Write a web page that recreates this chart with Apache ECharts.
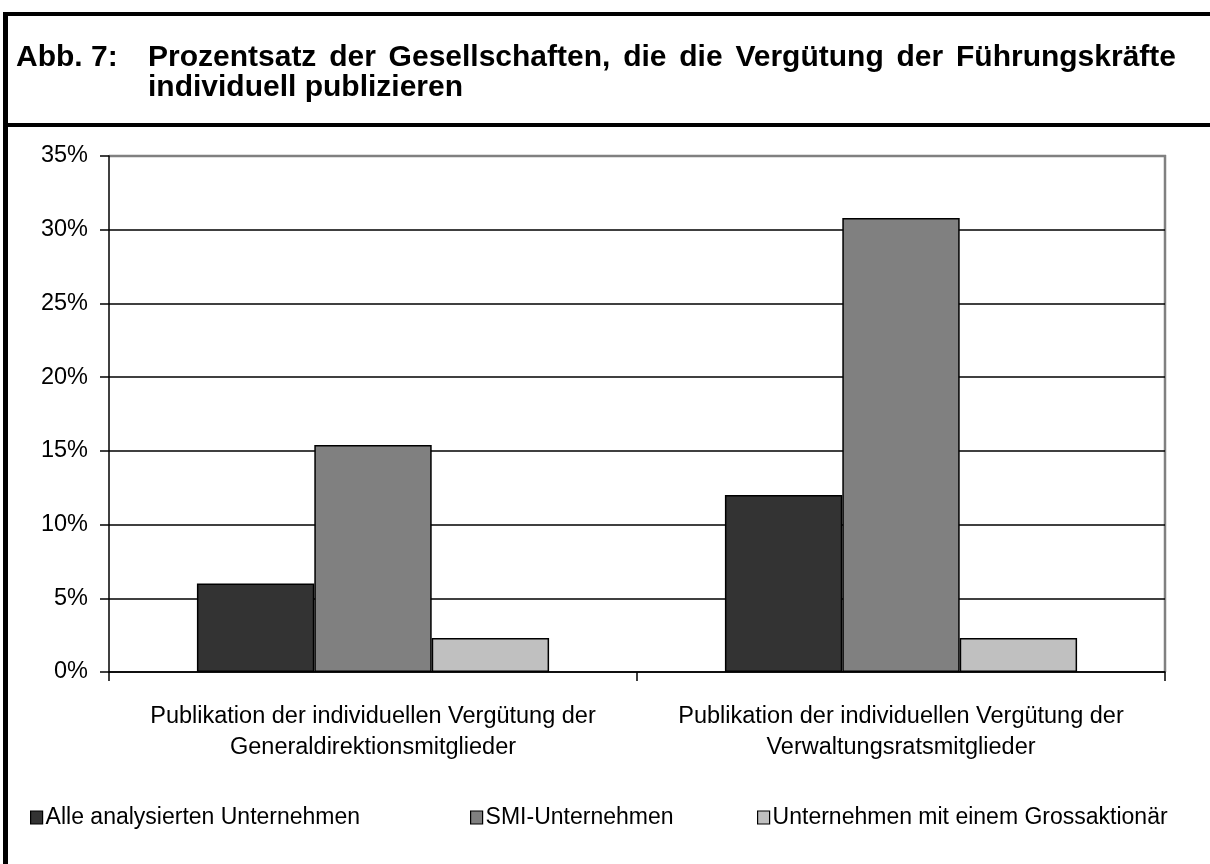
<!DOCTYPE html>
<html>
<head>
<meta charset="utf-8">
<script src="https://cdn.jsdelivr.net/npm/echarts@6/dist/echarts.min.js"></script>
<style>
html,body{margin:0;padding:0;background:#fff;}
#chart{width:1210px;height:864px;}
</style>
</head>
<body>
<div id="chart"></div>
<script>
const categories = [
  'Publikation der individuellen Vergütung der\nGeneraldirektionsmitglieder',
  'Publikation der individuellen Vergütung der\nVerwaltungsratsmitglieder'
];
const seriesNames = ['Alle analysierten Unternehmen', 'SMI-Unternehmen', 'Unternehmen mit einem Grossaktionär'];
const alleValues = [6.0, 12.0];
const smiValues = [15.4, 30.8];
const grossValues = [2.3, 2.3];
const yTicks = [0, 5, 10, 15, 20, 25, 30, 35];
const titleLead = 'Abb. 7:';
const titleLine1 = 'Prozentsatz der Gesellschaften, die die Vergütung der Führungskräfte';
const titleLine2 = 'individuell publizieren';

const FONT = "'Liberation Sans', Arial, sans-serif";
const TITLE_SIZE = 30;
const LABEL_SIZE = 23.5;
const LEGEND_SIZE = 23;
const colors = ['#333333', '#808080', '#c0c0c0'];
const chart = echarts.init(document.getElementById('chart'), null, {renderer: 'canvas'});

function bar(name, data, color) {
  return {
    name: name, type: 'bar', data: data,
    barGap: '0%', barCategoryGap: '33.3%',
    itemStyle: {color: color, borderColor: '#000', borderWidth: 1.5},
    emphasis: {disabled: true}
  };
}
function legendAt(left, name) {
  return {
    left: left, top: 801, itemWidth: 12, itemHeight: 13, itemGap: 0,
    icon: 'rect', data: [name],
    textStyle: {fontFamily: FONT, fontSize: LEGEND_SIZE, color: '#000', padding: [0, 0, 0, -2]},
    itemStyle: {borderColor: '#000', borderWidth: 1.2},
    selectedMode: false
  };
}

// first title line justified between the title start and the right text edge
function titleTexts() {
  const ctx = document.createElement('canvas').getContext('2d');
  ctx.font = 'bold ' + TITLE_SIZE + 'px ' + FONT;
  const words = titleLine1.split(' ');
  const widths = words.map(w => ctx.measureText(w).width);
  const x0 = 148, x1 = 1176;
  const total = widths.reduce((a, b) => a + b, 0);
  const gap = Math.max(ctx.measureText(' ').width, (x1 - x0 - total) / (words.length - 1));
  const st = {fontFamily: FONT, fontWeight: 'bold', fontSize: TITLE_SIZE, fill: '#000', verticalAlign: 'middle'};
  const out = [];
  out.push({type: 'text', x: 16, y: 58, style: Object.assign({text: titleLead}, st)});
  let x = x0;
  words.forEach((w, i) => {
    out.push({type: 'text', x: x, y: 58, style: Object.assign({text: w}, st)});
    x += widths[i] + gap;
  });
  out.push({type: 'text', x: x0, y: 88, style: Object.assign({text: titleLine2}, st)});
  return out;
}

chart.setOption({
  backgroundColor: '#fff',
  animation: false,
  legend: [
    legendAt(25, seriesNames[0]),
    legendAt(465, seriesNames[1]),
    legendAt(752, seriesNames[2])
  ],
  grid: {left: 109, right: 45, top: 156, bottom: 192, show: false},
  xAxis: {
    type: 'category', data: categories,
    axisLine: {lineStyle: {color: '#000', width: 1.5}},
    axisTick: {show: true, length: 9, lineStyle: {color: '#000', width: 1.5}},
    axisLabel: {interval: 0, fontFamily: FONT, fontSize: LABEL_SIZE, color: '#000', lineHeight: 31, margin: 29}
  },
  yAxis: {
    type: 'value', min: 0, max: 35, interval: 5,
    axisLine: {show: true, lineStyle: {color: '#000', width: 1.5}},
    axisTick: {show: true, length: 9, lineStyle: {color: '#000', width: 1.5}},
    axisLabel: {fontFamily: FONT, fontSize: LABEL_SIZE, color: '#000', margin: 21, padding: [8, 0, 0, 0],
      formatter: v => yTicks.indexOf(v) >= 0 ? v + '%' : ''},
    splitLine: {show: true, lineStyle: {color: ['#000','#000','#000','#000','#000','#000','#000','#808080'], width: 1.5}}
  },
  graphic: [
    {type: 'line', shape: {x1: 3, y1: 14, x2: 1210, y2: 14}, style: {stroke: '#000', lineWidth: 4}},
    {type: 'line', shape: {x1: 5.5, y1: 12, x2: 5.5, y2: 864}, style: {stroke: '#000', lineWidth: 5}},
    {type: 'line', shape: {x1: 3, y1: 125, x2: 1210, y2: 125}, style: {stroke: '#000', lineWidth: 4}},
    {type: 'line', shape: {x1: 1165, y1: 155, x2: 1165, y2: 672}, style: {stroke: '#808080', lineWidth: 2.5}},
    {type: 'line', shape: {x1: 109, y1: 156, x2: 1166, y2: 156}, style: {stroke: '#808080', lineWidth: 2.5}}
  ].concat(titleTexts()),
  series: [
    bar(seriesNames[0], alleValues, colors[0]),
    bar(seriesNames[1], smiValues, colors[1]),
    bar(seriesNames[2], grossValues, colors[2])
  ]
});
</script>
</body>
</html>
